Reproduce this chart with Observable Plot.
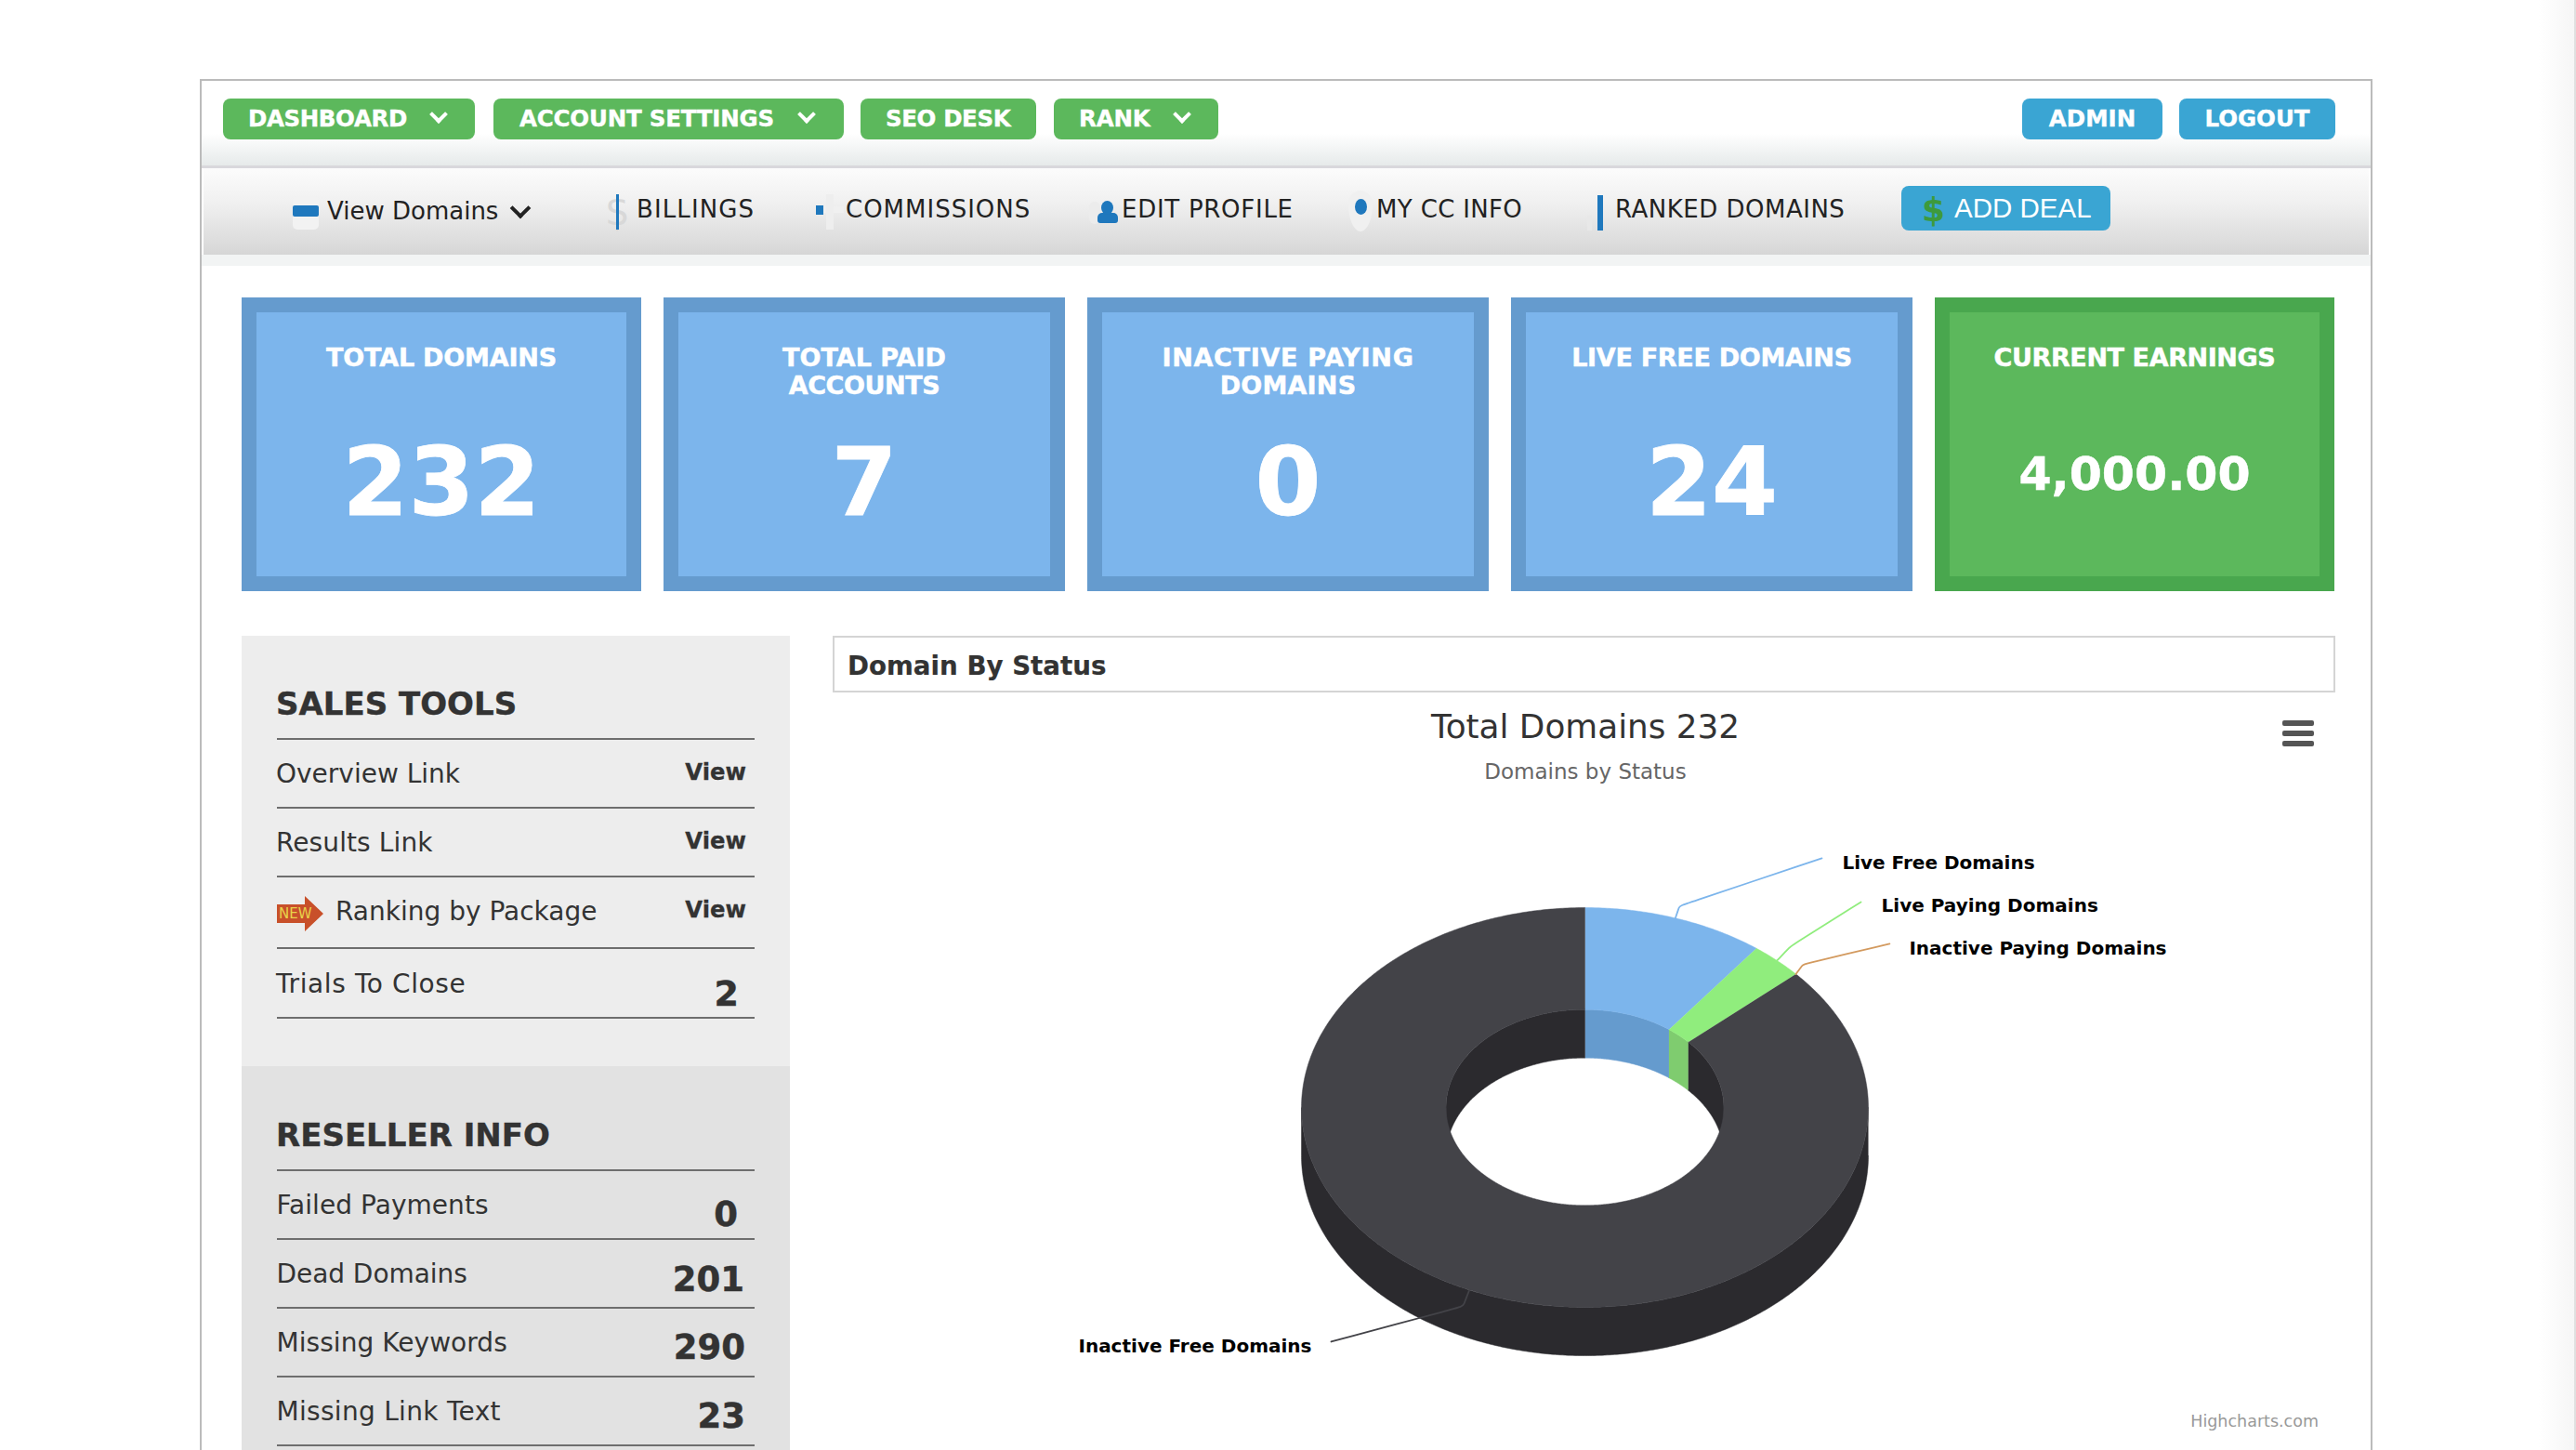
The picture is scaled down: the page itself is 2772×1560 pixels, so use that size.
<!DOCTYPE html>
<html><head><meta charset="utf-8">
<script src="https://cdn.jsdelivr.net/npm/d3@7"></script>
<script src="https://cdn.jsdelivr.net/npm/@observablehq/plot@0.6"></script>
<style>
html,body{margin:0;padding:0;background:#fff;overflow:hidden}
body{width:2772px;height:1560px;position:relative;font-family:"DejaVu Sans",sans-serif;color:#333}
.a{position:absolute;white-space:nowrap;line-height:1}
#chart{position:absolute;left:896px;top:745px}
</style></head><body><div id="page"></div>
<script>
// ---- values ----
const sliceNames = ["Live Free Domains", "Live Paying Domains", "Inactive Paying Domains", "Inactive Free Domains"];
const sliceValues = [24, 7, 0, 201];
const sliceTop = ["#7cb5ec", "#90ed7d", "#d39a5f", "#434348"];
const sliceWall = ["#659bce", "#7fcc6f", "#d08a4e", "#2b2a2e"];
const chartTitle = "Total Domains 232";
const chartSubtitle = "Domains by Status";
const cardTitles = [["TOTAL DOMAINS"], ["TOTAL PAID", "ACCOUNTS"], ["INACTIVE PAYING", "DOMAINS"], ["LIVE FREE DOMAINS"], ["CURRENT EARNINGS"]];
const cardValues = ["232", "7", "0", "24", "4,000.00"];
const salesLabels = ["Overview Link", "Results Link", "Ranking by Package", "Trials To Close"];
const salesValues = ["View", "View", "View", "2"];
const resellerLabels = ["Failed Payments", "Dead Domains", "Missing Keywords", "Missing Link Text"];
const resellerValues = ["0", "201", "290", "23"];
const topNav = ["DASHBOARD", "ACCOUNT SETTINGS", "SEO DESK", "RANK"];
const topRight = ["ADMIN", "LOGOUT"];
const subNav = ["View Domains", "BILLINGS", "COMMISSIONS", "EDIT PROFILE", "MY CC INFO", "RANKED DOMAINS"];

// ---- page chrome ----
const page = document.getElementById("page");
function box(x, y, w, h, bg, extra = "") {
  const d = document.createElement("div");
  d.className = "a";
  d.style.cssText = `left:${x}px;top:${y}px;width:${w}px;height:${h}px;background:${bg};${extra}`;
  page.appendChild(d); return d;
}
function txt(s, x, cy, size, opt = {}) {
  const d = document.createElement("div");
  d.className = "a"; d.textContent = s;
  const tx = opt.align === "center" ? "-50%" : opt.align === "right" ? "-100%" : "0";
  d.style.cssText = `left:${x}px;top:${cy}px;font-size:${size}px;font-weight:${opt.weight || 400};color:${opt.color || "#333"};font-family:${opt.font || '"DejaVu Sans"'};transform:translate(${tx},-50%);letter-spacing:${opt.ls || 0}px;-webkit-text-stroke:${opt.heavy || 0}px ${opt.color || "#333"}`;
  page.appendChild(d); return d;
}
function chevron(x, y, size, color, sw) {
  const d = document.createElement("div");
  d.className = "a";
  d.style.cssText = `left:${x}px;top:${y}px;width:${size}px;height:${size}px;border-right:${sw}px solid ${color};border-bottom:${sw}px solid ${color};transform:rotate(45deg);box-sizing:border-box`;
  page.appendChild(d);
}
// frame
box(215, 85, 2338, 2, "#bbb");
box(215, 85, 2, 1475, "#bbb");
box(2551, 85, 2, 1475, "#bbb");
box(217, 87, 2334, 91, "linear-gradient(#fff 0%,#fff 62%,#e6eaea 100%)");
box(217, 178, 2334, 3, "#d9d8dc");
box(219, 181, 2330, 93, "linear-gradient(#fcfcfc 0%,#f0f0f0 40%,#d6d6d6 100%)");
box(217, 274, 2334, 12, "#f2f4f4");
// window edge
box(2732, 0, 38, 1560, "linear-gradient(to right,#fff,#f6f6f6)");
box(2770, 0, 2, 1560, "#e0e0e0");
// top buttons
const topLs = [-0.4, -0.2, -0.4, -0.2], topTx = [27, 28, 27, 27];
[[240, 271], [531, 377], [926, 189], [1134, 177]].forEach(([x, w], i) => {
  box(x, 106, w, 44, "#5cb85c", "border-radius:8px");
  txt(topNav[i], x + topTx[i], 127.5, 24.5, {weight: 700, color: "#fff", ls: topLs[i], heavy: 0.4});
});
[[465], [861], [], [1265]].forEach(([x]) => { if (x) chevron(x, 116, 14, "#fff", 4); });
[[2176, 151], [2345, 168]].forEach(([x, w], i) => {
  box(x, 106, w, 44, "#3aa5d3", "border-radius:8px");
  txt(topRight[i], x + w / 2, 127.5, 24.5, {weight: 700, color: "#fff", align: "center", heavy: 0.4});
});
// sub nav
const navX = [352, 685, 910, 1207, 1481, 1738];
const navLs = [0, 1.1, 1, 0.73, 0.35, 0.5];
subNav.forEach((s, i) => txt(s, navX[i], i === 0 ? 227 : 224.5, 26, {color: "#222", ls: navLs[i]}));
chevron(552, 216, 16, "#222", 4.5);
box(315, 211, 28, 36, "#f2f2f2", "border-radius:5px");
box(315, 221, 28, 12, "#1f78bd", "border-radius:2px");
txt("$", 651, 228, 42, {color: "#d8d8d8"});
box(663, 209, 2.5, 38, "#1f78bd");
box(878, 222, 30, 7, "#f0f0f0");
box(889, 209, 8, 38, "#eeeeee");
box(878, 221, 8, 10, "#1f78bd");
box(1172, 217, 12, 24, "#ececec", "border-radius:6px");
box(1181, 229, 22, 11, "#1f78bd", "border-radius:5px 5px 3px 3px");
box(1185, 216, 13, 15, "#1f78bd", "border-radius:50%");
box(1451, 205, 26, 44, "#f0f0f0", "border-radius:50% 50% 50% 50% / 35% 35% 65% 65%");
box(1458, 214, 13, 17, "#1f78bd", "border-radius:50%");
box(1719, 210, 6, 38, "#1f78bd");
box(1708, 232, 5, 16, "#e8e8e8");
box(2046, 200, 225, 48, "#3aa5d3", "border-radius:8px");
txt("$", 2068, 226, 36, {color: "#3d9a3d", weight: 700});
txt("ADD DEAL", 2103, 224, 29.5, {color: "#fff", font: '"Liberation Sans"'});
// cards
const cardX = [[260, 430], [714, 432], [1170, 432], [1626, 432], [2082, 430]];
const cardLs = [[-0.2], [0, -0.4], [0.7, 0.2], [-0.3], [-0.4]];
cardX.forEach(([x, w], i) => {
  const green = i === 4;
  box(x, 320, w, 316, green ? "#49a74e" : "#659bce");
  box(x + 16, 336, w - 32, 284, green ? "#5cb85c" : "#7cb5ec");
  const cx = x + w / 2;
  cardTitles[i].forEach((s, j) => txt(s, cx, 384 + j * 30, 27, {weight: 700, color: "#fff", align: "center", ls: cardLs[i][j], heavy: 0.5}));
  txt(cardValues[i], cx, green ? 510 : 519, green ? 50.5 : 102, {weight: 700, color: "#fff", align: "center", heavy: green ? 0.5 : 0.8});
});
// sidebar
box(260, 684, 590, 463, "#ededed");
box(260, 1147, 590, 413, "#e2e2e2");
txt("SALES TOOLS", 297, 756.5, 34, {weight: 700, heavy: 0.4});
txt("RESELLER INFO", 297, 1220.5, 34, {weight: 700, heavy: 0.4});
[794, 868, 942, 1019, 1094, 1258, 1332, 1406, 1480, 1554].forEach(y => box(298, y, 514, 2, "#6e6e6e"));
const salesY = [832.5, 906.5, 980.5, 1058.5], salesLs = [0, 0.1, 0, 0.6];
salesLabels.forEach((s, i) => txt(s, i === 2 ? 361 : 297, salesY[i], 28, {ls: salesLs[i]}));
[830.5, 904.5, 978.5].forEach((y, i) => txt(salesValues[i], 803, y, 24.3, {weight: 700, align: "right", heavy: 0.3}));
txt(salesValues[3], 795, 1069, 38, {weight: 700, align: "right", heavy: 0.5});
box(298, 964, 50, 38, "#c8502a", "clip-path:polygon(0 24%,60% 24%,60% 0,100% 50%,60% 100%,60% 76%,0 76%)");
txt("NEW", 300, 983, 15, {color: "#e8d24a"});
const resY = [1296.5, 1370.5, 1444.5, 1518.5], resLs = [0.05, -0.05, 0.05, 0.3];
const resValY = [1306, 1376, 1449, 1523], resValX = [794, 801, 802, 802];
resellerLabels.forEach((s, i) => txt(s, 297.5, resY[i], 28, {ls: resLs[i]}));
resellerValues.forEach((s, i) => txt(s, resValX[i], resValY[i], 37, {weight: 700, align: "right", heavy: 0.5}));
// chart header + titles
box(896, 684, 1617, 61, "#fff", "border:2px solid #d4d4d4;box-sizing:border-box");
txt("Domain By Status", 912, 717, 27.7, {weight: 700, heavy: 0.2});
txt(chartTitle, 1706, 782, 35.8, {align: "center"});
txt(chartSubtitle, 1706, 830, 23, {color: "#666", align: "center"});
[775, 786, 797].forEach(y => box(2456, y, 34, 6, "#555", "border-radius:2px"));
txt("Highcharts.com", 2495, 1530, 17.5, {color: "#999", align: "right"});

// ---- 3D donut, drawn through Plot's scales ----
// x = sin(angle), y = cos(angle) in the tilted plane, unit outer radius.
const innerRatio = 0.49;   // hole radius / outer radius
const depth = 0.242;       // extrusion, in y units
const total = d3.sum(sliceValues);
let acc = 0;
const slices = sliceValues.map((v, i) => {
  const a0 = acc / total * 360; acc += v; const a1 = acc / total * 360;
  return {name: sliceNames[i], top: sliceTop[i], wall: sliceWall[i], a0, a1, mid: (a0 + a1) / 2};
});
const pt = (deg, r, dy = 0) => ({x: r * Math.sin(deg * Math.PI / 180), y: r * Math.cos(deg * Math.PI / 180) - dy});
function arc(a0, a1) { const n = Math.max(2, Math.ceil((a1 - a0) / 0.5)); return d3.range(n + 1).map(k => a0 + (a1 - a0) * k / n); }
function ribbon(id, color, outerPath, innerPath) {
  return [...outerPath, ...innerPath.reverse()].map(p => ({...p, id, color}));
}
function clipRange(a0, a1, lo, hi) { const s = Math.max(a0, lo), e = Math.min(a1, hi); return e > s ? [s, e] : null; }
const walls = [], tops = [];
slices.forEach((s, i) => {
  if (s.a1 <= s.a0) return;
  const outerR = clipRange(s.a0, s.a1, 90, 270);
  if (outerR) { const as = arc(...outerR); walls.push(...ribbon(`o${i}`, s.wall, as.map(a => pt(a, 1)), as.map(a => pt(a, 1, depth)))); }
  [[0, 90], [270, 360]].forEach(([lo, hi], k) => {
    const r = clipRange(s.a0, s.a1, lo, hi);
    if (r) { const as = arc(...r); walls.push(...ribbon(`i${i}${k}`, s.wall, as.map(a => pt(a, innerRatio)), as.map(a => pt(a, innerRatio, depth)))); }
  });
  const as = arc(s.a0, s.a1);
  tops.push(...ribbon(`t${i}`, s.top, as.map(a => pt(a, 1)), as.map(a => pt(a, innerRatio))));
});
// connector bend and end, label anchor (plane units), per slice
const connBend = [[0.334, 1.009], [0.728, 0.809], [0.77, 0.716], [-0.43, -0.995]];
const connEnd = [[0.836, 1.247], [0.974, 1.028], [1.075, 0.819], [-0.895, -1.172]];
const labelAt = [[0.908, 1.224], [1.046, 1.01], [1.144, 0.795], [-0.964, -1.195]];
const connectors = slices.flatMap((s, i) => {
  const b = {x: connBend[i][0], y: connBend[i][1]}, e = {x: connEnd[i][0], y: connEnd[i][1]};
  return [pt(s.mid, 1), b, b, e].map(p => ({...p, id: s.name, color: s.top}));
});
const labels = slices.map((s, i) => ({name: s.name, x: labelAt[i][0], y: labelAt[i][1], anchor: i === 3 ? "end" : "start"}));

const chart = Plot.plot({
  width: 1617, height: 815,
  marginLeft: 0, marginRight: 0, marginTop: 0, marginBottom: 0,
  style: {background: "transparent", overflow: "visible"},
  x: {domain: [-1, 1], range: [504, 1114], axis: null},
  y: {domain: [1, -1], range: [231, 661], axis: null},
  color: {type: "identity"},
  marks: [
    Plot.line(walls, {x: "x", y: "y", z: "id", fill: "color", stroke: "color", strokeWidth: 0.5, curve: "linear"}),
    Plot.line(tops, {x: "x", y: "y", z: "id", fill: "color", stroke: "color", strokeWidth: 0.5, curve: "linear"}),
    Plot.line(connectors, {x: "x", y: "y", z: "id", stroke: "color", strokeWidth: 1.8, curve: "basis"}),
    Plot.text(labels.filter(d => d.anchor === "start"), {x: "x", y: "y", text: "name", textAnchor: "start", fontFamily: "DejaVu Sans", fontWeight: 700, fontSize: 20, fill: "#000"}),
    Plot.text(labels.filter(d => d.anchor === "end"), {x: "x", y: "y", text: "name", textAnchor: "end", fontFamily: "DejaVu Sans", fontWeight: 700, fontSize: 20, fill: "#000"})
  ]
});
const holder = document.createElement("div");
holder.id = "chart"; holder.appendChild(chart);
document.body.appendChild(holder);
</script></body></html>
